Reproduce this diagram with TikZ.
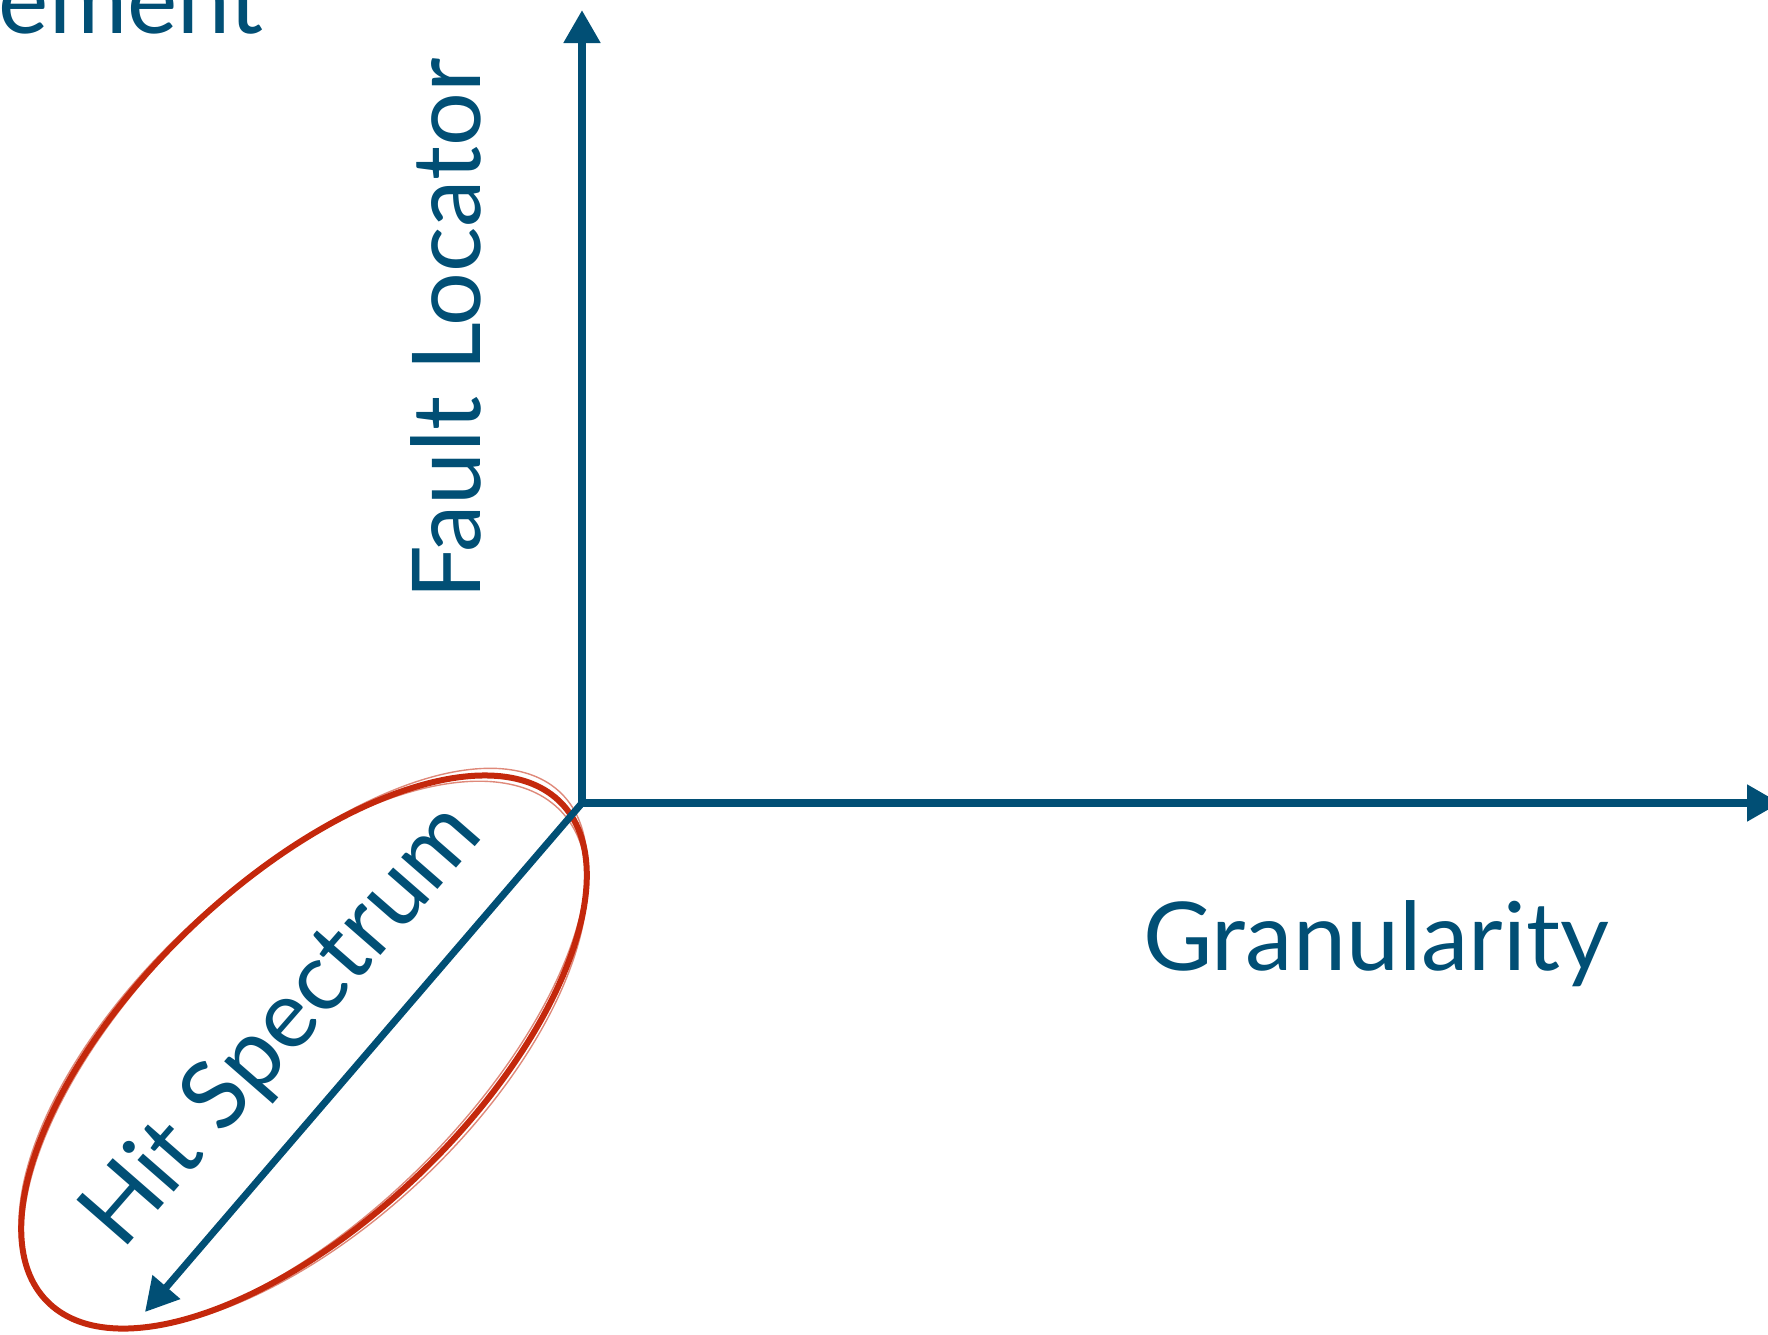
\documentclass[tikz,border=0pt]{standalone}
\usepackage{fontspec}
\setmainfont{Lato}
\usetikzlibrary{arrows.meta}
\definecolor{axisblue}{RGB}{1,79,117}
\definecolor{sketchred}{RGB}{196,40,12}
\tikzset{
  axis/.style={draw=axisblue, line width=8pt, -{Triangle[length=33pt,width=35pt]}},
  diag/.style={draw=axisblue, line width=7pt, -{Triangle[length=33pt,width=35pt]}},
  lbl/.style={text=axisblue, inner sep=0pt, font=\fontsize{95}{110}\selectfont},
  ring/.style={draw=sketchred, line width=6pt},
  ringfaint/.style={draw=sketchred, line width=1.4pt, opacity=.55}
}
\begin{document}
\begin{tikzpicture}[x=1pt,y=-1pt]
\useasboundingbox (0,0) rectangle (1768,1334);
\coordinate (O) at (582,803);
\coordinate (ytip) at (582,10);
\coordinate (xtip) at (1780,803);
\coordinate (dtip) at (145,1312);
\coordinate (C) at (304,1052);
% labels
\node[lbl, anchor=base west] (gran) at (1143,970) {Granularity};
\node[lbl, anchor=base west, rotate=90] (fault) at (480,600) {Fault Locator};
\node[lbl, anchor=base west, rotate=48.9] (hit) at (122,1252) {Hit Spectrum};
\node[lbl, anchor=base east] (ement) at (264,33) {ement};
% sketchy red ellipse
\draw[ring, rotate around={44:(C)}] (C) ellipse [x radius=358, y radius=168];
\draw[ringfaint, rotate around={44.8:(305,1049)}] (305,1049) ellipse [x radius=362, y radius=165];
\draw[ringfaint, rotate around={43.3:(303,1055)}] (303,1055) ellipse [x radius=355, y radius=172];
% axes
\draw[axis] (O) -- (ytip);
\draw[axis] (O) -- (xtip);
\draw[diag] (O) -- (dtip);
\end{tikzpicture}
\end{document}
